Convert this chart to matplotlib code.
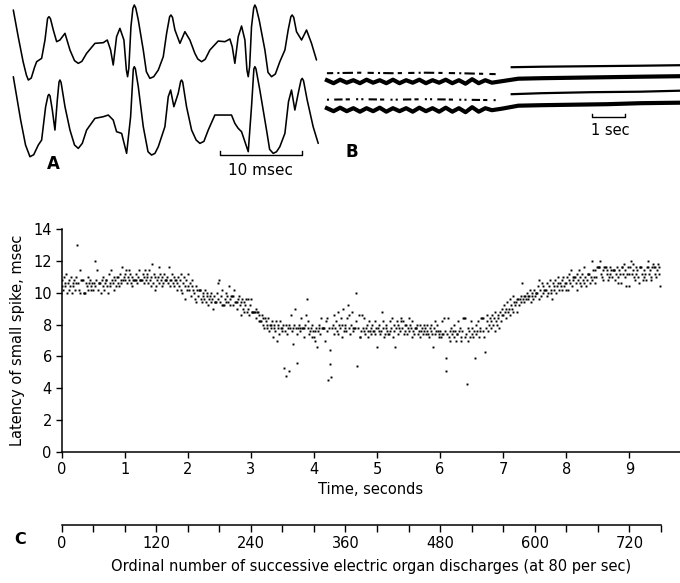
import numpy as np
import matplotlib
matplotlib.use("Agg")
import matplotlib.pyplot as plt
from matplotlib.ticker import FixedLocator, NullFormatter

# --- Panel A: two recorded waveforms (time in msec, amplitude arbitrary units)
a_top = [(0.0, 54.0), (0.6, 46.0), (1.2, 38.5), (1.6, 34.5), (1.84, 33.0), (2.2, 33.6),
         (2.6, 36.8), (2.86, 38.5), (3.47, 39.5), (3.88, 45.0), (4.2, 51.5),
         (4.37, 52.0), (4.55, 51.4), (4.90, 48.0), (5.31, 44.5), (5.71, 45.0), (6.33, 47.0),
         (6.94, 42.0), (7.5, 38.8), (7.96, 38.0), (8.4, 38.6), (8.98, 41.0), (10.0, 44.0),
         (11.02, 44.2), (11.51, 45.0), (11.92, 42.0), (12.24, 37.5), (12.65, 46.0),
         (13.06, 48.5), (13.55, 45.0), (13.85, 36.0), (14.0, 34.0), (14.15, 36.5),
         (14.41, 49.0), (14.65, 54.5), (14.82, 55.5), (15.0, 54.6), (15.31, 51.0),
         (15.92, 42.0), (16.3, 35.5), (16.73, 33.5), (17.2, 34.0), (17.76, 36.0),
         (18.37, 40.0), (18.78, 47.0), (19.15, 52.0), (19.31, 52.5), (19.5, 51.8),
         (19.8, 48.0), (20.41, 44.0), (21.02, 47.5), (21.63, 45.0), (22.24, 41.0),
         (22.6, 39.3), (23.06, 38.5), (23.5, 39.2), (24.08, 42.0), (25.1, 44.7),
         (25.92, 44.5), (26.53, 45.3), (26.82, 43.0), (27.14, 38.0), (27.55, 46.0),
         (27.96, 49.2), (28.37, 45.0), (28.62, 36.0), (28.78, 34.0), (28.95, 37.0),
         (29.18, 49.0), (29.45, 54.6), (29.59, 55.5), (29.75, 54.7), (30.12, 51.0),
         (30.82, 42.0), (31.2, 35.3), (31.63, 34.0), (32.1, 34.8), (32.65, 38.5),
         (33.27, 42.0), (33.67, 48.0), (34.0, 52.0), (34.16, 52.5), (34.35, 51.8),
         (34.69, 47.5), (35.31, 45.0), (35.92, 48.0), (36.53, 44.0), (37.14, 39.0)]
a_bottom = [(0.0, 34.0), (0.9, 21.0), (1.5, 13.5), (2.04, 10.0), (2.5, 10.6), (3.06, 13.5),
            (3.47, 15.0), (3.96, 25.0), (4.25, 28.3), (4.37, 28.7), (4.5, 28.2), (4.78, 24.0),
            (5.10, 18.0), (5.39, 27.0), (5.6, 32.4), (5.71, 33.0), (5.85, 32.3), (6.33, 25.0),
            (6.94, 18.0), (7.5, 13.5), (7.96, 12.5), (8.45, 14.0), (8.98, 18.0), (10.0, 21.5),
            (11.02, 22.0), (11.63, 22.5), (12.24, 21.0), (12.65, 17.5), (13.27, 17.0),
            (13.88, 11.0), (14.37, 22.0), (14.7, 36.3), (14.82, 37.0), (14.95, 36.4),
            (15.31, 31.0), (15.92, 19.0), (16.5, 11.5), (16.94, 10.5), (17.35, 11.0),
            (17.76, 13.0), (18.57, 19.0), (18.98, 28.0), (19.27, 30.0), (19.67, 25.0),
            (20.2, 29.0), (20.5, 32.6), (20.61, 33.0), (20.75, 32.4), (21.22, 25.0),
            (21.84, 18.0), (22.4, 15.0), (22.86, 14.0), (23.35, 14.6), (23.88, 18.0),
            (24.69, 22.5), (25.71, 22.5), (26.73, 22.5), (27.14, 20.0), (27.55, 18.5),
            (27.96, 17.5), (28.78, 11.5), (29.18, 25.0), (29.47, 36.3), (29.59, 37.0),
            (29.72, 36.4), (30.2, 30.0), (31.02, 18.0), (31.4, 12.2), (31.84, 11.0),
            (32.25, 11.5), (32.65, 13.0), (33.27, 17.0), (33.71, 26.5), (34.08, 30.0),
            (34.49, 24.0), (34.9, 29.0), (35.25, 33.0), (35.39, 33.5), (35.55, 32.8),
            (36.0, 27.0), (36.73, 19.0), (37.35, 14.0)]

# --- Panel B: slow sweep, four traces (time in sec, vertical offset arbitrary)
b_wave_t = [0.0, 0.2, 0.4, 0.6, 0.8, 1.0, 1.2, 1.4, 1.6, 1.8, 2.0, 2.2, 2.4,
            2.6, 2.8, 3.0, 3.2, 3.4, 3.6, 3.8, 4.0, 4.2, 4.4, 4.6, 4.8, 5.0]
b_thick1_wave = [10.0, 9.7, 10.05, 9.75, 10.0, 9.7, 10.05, 9.75, 10.0, 9.7, 10.05, 9.7, 10.0,
                 9.75, 10.05, 9.7, 10.0, 9.75, 10.05, 9.7, 10.0, 9.65, 10.1, 9.7, 10.0, 9.75]
b_thick2_wave = [7.2, 6.9, 7.25, 6.9, 7.2, 6.85, 7.2, 6.9, 7.25, 6.85, 7.2, 6.9, 7.2,
                 6.85, 7.25, 6.9, 7.2, 6.85, 7.25, 6.85, 7.2, 6.8, 7.3, 6.85, 7.2, 7.0]
b_flat_t = [5.3, 5.8, 6.5, 7.5, 8.5, 9.5, 10.7]
b_thick1_flat = [9.9, 10.15, 10.2, 10.25, 10.3, 10.35, 10.4]
b_thick2_flat = [7.15, 7.45, 7.5, 7.55, 7.6, 7.7, 7.75]
b_thin_left_t = [0.0, 1.0, 2.0, 3.0, 4.0, 5.2]
b_thin1_left = [10.7, 10.75, 10.7, 10.75, 10.7, 10.6]
b_thin2_left = [8.05, 8.1, 8.05, 8.1, 8.05, 8.0]
b_thin_right_t = [5.6, 6.5, 8.0, 9.5, 10.7]
b_thin1_right = [11.3, 11.35, 11.4, 11.45, 11.5]
b_thin2_right = [8.6, 8.7, 8.8, 8.85, 8.95]

# --- Panel C: latency of small spike (msec) for successive discharges, 80 per sec
lat_sec0 = [10.4, 10.8, 10.2, 11.0, 10.6, 10.4, 11.2, 10.0, 10.6, 10.8, 10.2, 10.4, 11.0, 10.0, 10.6, 10.4,
            10.8, 10.2, 10.6, 11.0, 13.0, 10.6, 10.2, 11.4, 10.0, 10.8, 10.8, 10.8, 10.0, 10.0, 10.0, 10.6,
            10.4, 11.0, 10.2, 10.6, 10.8, 10.2, 10.4, 10.6,
            10.2, 10.6, 12.0, 10.4, 10.8, 11.4, 10.2, 10.6, 10.6, 10.6, 10.0, 10.8, 10.4, 11.0, 10.2, 10.6,
            10.8, 10.8, 10.4, 10.0, 11.2, 10.6, 10.4, 11.4, 10.8, 10.6, 10.2, 11.0, 10.8, 10.4, 11.0, 11.0,
            10.6, 10.4, 11.2, 10.8, 10.6, 11.6, 10.8, 11.0]
lat_sec1 = [11.2, 10.8, 11.4, 10.6, 11.0, 11.4, 10.8, 11.2, 10.6, 11.0, 10.4, 10.8, 10.8, 10.8, 10.8, 11.2,
            10.6, 11.0, 11.4, 10.8, 10.8, 10.8, 10.8, 11.2, 10.6, 11.0, 11.4, 10.8, 11.0, 11.2, 10.6, 11.4,
            10.8, 11.0, 10.4, 11.8, 10.6, 11.2, 10.2, 11.0,
            10.4, 10.8, 11.0, 11.6, 10.6, 11.2, 10.8, 10.4, 11.0, 10.6, 11.2, 10.8, 10.8, 10.8, 11.0, 10.6,
            11.6, 10.8, 10.4, 10.8, 11.2, 10.6, 10.4, 11.0, 10.8, 10.8, 10.2, 10.6, 11.0, 10.4, 10.8, 10.2,
            11.2, 10.0, 10.6, 11.0, 9.6, 10.4, 10.8, 10.2]
lat_sec2 = [10.4, 11.2, 10.2, 10.6, 9.8, 10.4, 10.8, 10.2, 10.0, 9.6, 10.4, 9.4, 10.2, 9.8, 10.2, 10.2,
            10.2, 9.6, 9.4, 10.0, 9.8, 9.6, 10.2, 9.4, 9.8, 10.0, 9.2, 9.6, 9.8, 9.4, 10.0, 9.6,
            9.0, 9.8, 9.4, 9.4, 9.4, 10.0, 9.6, 10.6,
            10.8, 9.4, 9.8, 10.2, 9.2, 9.2, 9.2, 9.6, 10.0, 9.4, 9.8, 9.4, 10.4, 9.2, 9.6, 9.8,
            9.8, 9.8, 9.2, 10.2, 9.4, 9.4, 9.4, 9.0, 9.6, 9.8, 9.2, 9.4, 8.6, 9.6, 9.0, 9.4,
            8.8, 9.2, 9.6, 8.8, 9.0, 9.6, 8.6, 9.2]
lat_sec3 = [9.6, 8.8, 8.8, 8.8, 8.8, 8.8, 8.4, 9.0, 8.8, 8.8, 8.6, 8.2, 8.2, 8.2, 8.6, 8.0,
            8.4, 7.8, 8.4, 8.2, 7.8, 8.0, 8.4, 7.6, 8.0, 8.0, 7.8, 8.2, 7.2, 7.8, 8.0, 7.6,
            8.2, 7.0, 7.8, 8.0, 7.4, 8.2, 7.8, 7.6,
            7.8, 8.0, 5.3, 7.6, 4.8, 8.0, 7.4, 7.8, 5.1, 8.0, 7.8, 8.6, 7.6, 6.8, 7.8, 8.0,
            9.0, 7.8, 5.6, 7.4, 7.8, 8.0, 7.6, 7.8, 8.4, 7.8, 7.8, 7.8, 7.2, 8.0, 8.6, 9.6,
            7.8, 8.2, 7.4, 7.6, 7.8, 7.2, 8.0, 7.6]
lat_sec4 = [7.2, 7.6, 7.0, 7.8, 6.6, 7.6, 8.0, 7.8, 7.4, 8.4, 7.8, 7.8, 7.8, 7.8, 7.0, 8.2,
            8.4, 7.6, 4.5, 7.8, 5.5, 6.4, 4.7, 7.8, 8.0, 7.4, 8.6, 7.8, 8.2, 7.6, 8.8, 7.4,
            8.0, 7.8, 8.4, 7.2, 8.0, 9.0, 7.6, 7.8,
            8.0, 7.6, 8.4, 9.2, 7.8, 8.6, 7.4, 8.0, 8.8, 7.8, 7.6, 7.8, 7.8, 10.0, 8.2, 5.4,
            7.8, 8.6, 7.2, 7.2, 7.6, 8.6, 7.8, 7.6, 8.4, 7.4, 7.8, 8.0, 7.2, 7.6, 8.2, 7.6,
            7.8, 7.4, 8.0, 7.6, 7.6, 8.2, 7.4, 7.8]
lat_sec5 = [6.6, 7.8, 7.6, 8.0, 7.4, 7.6, 8.8, 7.8, 8.2, 7.2, 7.4, 7.8, 8.0, 7.6, 7.4, 7.4,
            8.2, 7.6, 7.8, 8.4, 7.2, 8.0, 7.6, 6.6, 7.8, 8.2, 7.4, 8.0, 7.8, 7.6, 8.4, 8.2,
            7.8, 8.2, 7.4, 8.0, 7.6, 8.0, 7.4, 7.8,
            8.4, 7.6, 8.0, 7.8, 7.2, 8.2, 7.6, 7.4, 7.8, 7.8, 7.8, 8.0, 7.4, 7.6, 8.0, 7.2,
            7.6, 7.8, 7.4, 7.6, 8.0, 7.8, 7.4, 7.6, 8.0, 7.4, 7.2, 7.8, 7.6, 8.0, 7.4, 6.6,
            7.8, 8.2, 7.4, 7.6, 8.0, 7.6, 7.2, 7.4]
lat_sec6 = [7.6, 7.2, 8.2, 7.4, 7.4, 8.4, 7.6, 5.9, 5.1, 7.4, 8.4, 7.2, 7.6, 7.0, 7.8, 7.4,
            7.6, 7.2, 8.0, 7.6, 7.0, 7.4, 7.4, 8.2, 7.6, 7.8, 7.2, 7.0, 7.6, 8.4, 8.4, 8.4,
            7.2, 7.4, 4.3, 7.0, 7.8, 7.6, 7.2, 8.2,
            7.4, 7.8, 7.2, 7.6, 5.9, 8.0, 7.4, 7.6, 8.2, 7.2, 7.6, 7.8, 8.4, 8.4, 8.4, 7.6,
            7.2, 6.3, 7.8, 8.2, 8.6, 7.6, 8.0, 8.4, 8.2, 7.8, 8.6, 8.0, 8.4, 7.6, 8.8, 8.2,
            8.0, 8.6, 8.4, 7.8, 8.8, 8.2, 8.6, 9.0]
lat_sec7 = [8.6, 9.2, 8.8, 9.0, 8.4, 9.4, 8.8, 9.0, 9.6, 8.6, 9.2, 9.0, 9.8, 8.8, 9.4, 9.2,
            9.4, 9.6, 8.8, 9.6, 9.2, 9.6, 9.8, 9.4, 10.6, 9.6, 9.8, 9.4, 9.8, 9.6, 10.0, 9.6,
            9.8, 9.8, 10.2, 9.4, 9.8, 10.0, 9.6, 10.2,
            9.8, 10.0, 10.0, 10.0, 10.4, 9.6, 10.8, 10.2, 9.8, 10.6, 10.0, 10.4, 10.2, 10.2, 10.2, 9.8,
            10.6, 10.0, 10.4, 10.8, 10.2, 10.0, 9.6, 10.6, 10.4, 10.2, 10.8, 10.0, 10.4, 10.6, 11.0, 10.2,
            10.6, 10.4, 10.8, 10.2, 11.0, 10.4, 10.6, 10.2]
lat_sec8 = [10.6, 11.0, 10.2, 10.8, 11.2, 10.6, 11.4, 10.4, 10.8, 11.0, 11.0, 11.0, 10.6, 11.2, 10.2, 10.8,
            11.4, 10.6, 11.0, 10.4, 11.2, 10.8, 11.6, 10.6, 11.0, 10.4, 10.8, 11.2, 11.2, 11.2, 10.6, 11.0,
            12.0, 10.8, 11.4, 11.0, 10.6, 11.4, 11.0, 11.6,
            11.6, 11.6, 11.6, 12.0, 11.2, 11.0, 11.4, 10.8, 11.6, 11.6, 11.6, 11.2, 11.4, 10.8, 11.0, 11.6,
            11.2, 11.4, 11.0, 11.4, 11.4, 11.4, 10.8, 11.2, 11.6, 10.6, 11.0, 11.4, 11.2, 10.6, 11.6, 11.6,
            11.2, 11.8, 11.0, 11.4, 10.4, 11.2, 11.6, 11.2]
lat_sec9 = [10.4, 11.6, 12.0, 11.2, 11.8, 11.4, 11.0, 10.8, 11.6, 11.2, 11.4, 11.0, 10.6, 11.6, 11.6, 11.6,
            11.2, 10.8, 11.4, 11.0, 11.2, 10.8, 11.6, 11.6, 12.0, 11.2, 11.4, 10.8, 11.0, 11.6, 11.8, 11.6,
            11.6, 11.2, 11.0, 11.4, 11.8, 11.2, 11.6, 10.4]

rate = 80  # discharges per second
y_ticks = [0, 2, 4, 6, 8, 10, 12, 14]
x_ticks = [0, 1, 2, 3, 4, 5, 6, 7, 8, 9]
ordinal_labels = [0, 120, 240, 360, 480, 600, 720]
ordinal_minor = list(range(0, 761, 40))

latency = np.concatenate([lat_sec0, lat_sec1, lat_sec2, lat_sec3, lat_sec4,
                          lat_sec5, lat_sec6, lat_sec7, lat_sec8, lat_sec9])
ordinal = np.arange(len(latency))
seconds = ordinal / rate

plt.rcParams['font.family'] = ['DejaVu Sans']
fig = plt.figure(figsize=(6.8, 5.83), dpi=100, facecolor='white')

# Panel A
axA = fig.add_axes([0.0, 0.674, 0.485, 0.326])
axA.set_axis_off()
axA.set_xlim(-1.63, 38.77)
axA.set_ylim(0, 57)
for trace in (a_top, a_bottom):
    t, v = zip(*trace)
    axA.plot(t, v, color='black', lw=1.15, solid_joinstyle='round', solid_capstyle='round')
axA.plot([25.31, 25.31, 35.31, 35.31], [11.8, 10.5, 10.5, 11.8], color='black', lw=1.0)
axA.text(30.3, 6.0, '10 msec', ha='center', va='center', fontsize=11)
axA.text(4.9, 7.8, 'A', ha='center', va='center', fontsize=12, fontweight='bold')

# Panel B
axB = fig.add_axes([0.4706, 0.691, 0.5294, 0.240])
axB.set_axis_off()
axB.set_xlim(-0.21, 10.70)
axB.set_ylim(0, 14)
axB.plot(b_wave_t + b_flat_t, b_thick1_wave + b_thick1_flat, color='black', lw=3.0)
axB.plot(b_wave_t + b_flat_t, b_thick2_wave + b_thick2_flat, color='black', lw=3.0)
axB.plot(b_thin_left_t, b_thin1_left, color='black', lw=1.5, ls=(0, (3, 2, 1, 1.5, 5, 2, 2, 3)))
axB.plot(b_thin_left_t, b_thin2_left, color='black', lw=1.5, ls=(0, (1, 2.5, 4, 1.5, 2, 3, 1, 1.5)))
axB.plot(b_thin_right_t, b_thin1_right, color='black', lw=1.6)
axB.plot(b_thin_right_t, b_thin2_right, color='black', lw=1.6)
axB.plot([8.03, 8.03, 9.03, 9.03], [6.6, 6.3, 6.3, 6.6], color='black', lw=1.0)
axB.text(8.58, 5.0, '1 sec', ha='center', va='center', fontsize=10.5)
axB.text(0.76, 2.8, 'B', ha='center', va='center', fontsize=12, fontweight='bold')

# Panel C: latency scatter
ax = fig.add_axes([61.5 / 680, 131 / 583, 1 - 61.5 / 680, 223 / 583])
ax.plot(seconds, latency, ls='none', marker='s', ms=1.4, mew=0, color='black')
ax.set_xlim(0, (680 - 61.5) / 63.1)
ax.set_ylim(0, 14)
ax.set_xticks(x_ticks)
ax.set_yticks(y_ticks)
for side in ('top', 'right'):
    ax.spines[side].set_visible(False)
for side in ('left', 'bottom'):
    ax.spines[side].set_linewidth(1.1)
ax.tick_params(direction='out', length=4, width=1.0, labelsize=10.5, pad=3)
ax.set_xlabel('Time, seconds', fontsize=10.5, labelpad=4)
ax.set_ylabel('Latency of small spike, msec', fontsize=10.5, labelpad=6)

# ordinal-number axis below, tied to the time axis
sec = ax.secondary_xaxis(-0.327, functions=(lambda s: s * rate, lambda n: n / rate))
sec.xaxis.set_major_locator(FixedLocator(ordinal_labels))
sec.xaxis.set_minor_locator(FixedLocator(ordinal_minor))
sec.xaxis.set_minor_formatter(NullFormatter())
sec.spines['bottom'].set_bounds(0, 760)
sec.spines['bottom'].set_linewidth(1.1)
sec.tick_params(which='both', direction='out', length=5, width=1.0, labelsize=10.5, pad=3)
sec.set_xlabel('Ordinal number of successive electric organ discharges (at 80 per sec)',
               fontsize=10.5, labelpad=6)
fig.text(20 / 680, 1 - 540 / 583, 'C', ha='center', va='center', fontsize=11.5, fontweight='bold')

fig.savefig('out.png', dpi=100, facecolor='white')
